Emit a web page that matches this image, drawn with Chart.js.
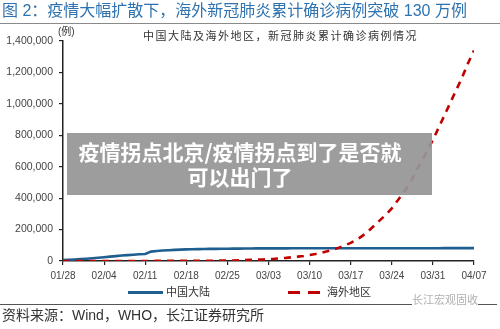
<!DOCTYPE html>
<html><head><meta charset="utf-8">
<script src="https://cdn.jsdelivr.net/npm/chart.js@4/dist/chart.umd.min.js"></script>
<style>
html,body{margin:0;padding:0;background:#fff;}
#wrap{position:relative;width:500px;height:329px;overflow:hidden;font-family:"Liberation Sans",Arial,"Noto Sans CJK SC",sans-serif;}
#c{position:absolute;left:0;top:0;}
.abs{position:absolute;white-space:nowrap;}
</style></head>
<body>
<div id="wrap">
<canvas id="c" width="500" height="329"></canvas>
<div class="abs" style="left:2px;top:1px;font-size:16px;color:#2e73b0;line-height:20px;">图 2：疫情大幅扩散下，海外新冠肺炎累计确诊病例突破 130 万例</div>
<div class="abs" style="left:0;top:23px;width:500px;height:1px;background:#8a8a8a;"></div>
<div class="abs" style="left:143px;top:29px;font-size:11px;letter-spacing:1.5px;color:#333;line-height:14px;">中国大陆及海外地区，新冠肺炎累计确诊病例情况</div>
<div class="abs" style="left:58px;top:26px;font-size:10px;color:#333;line-height:12px;">(例)</div>
<div class="abs" style="left:67px;top:133px;width:365px;height:62px;background:rgba(150,150,150,0.93);"></div>
<div class="abs" style="left:40px;top:139px;width:400px;text-align:center;font-size:21px;font-weight:bold;color:#fff;line-height:25px;font-family:'Noto Sans CJK SC',sans-serif;">疫情拐点北京/疫情拐点到了是否就<br>可以出门了</div>
<div class="abs" style="left:128px;top:291px;width:35px;height:3px;background:#1f5f8f;"></div>
<div class="abs" style="left:166px;top:285px;font-size:11px;color:#333;line-height:14px;">中国大陆</div>
<div class="abs" style="left:288px;top:291px;width:12px;height:3px;background:#c00000;"></div>
<div class="abs" style="left:308px;top:291px;width:12px;height:3px;background:#c00000;"></div>
<div class="abs" style="left:327px;top:285px;font-size:11px;color:#333;line-height:14px;">海外地区</div>
<div class="abs" style="left:0;top:304px;width:497px;height:1px;background:#555;"></div>
<div class="abs" style="left:412px;top:293px;font-size:11px;color:#b0b0b0;line-height:14px;background:#fff;">长江宏观固收</div>
<div class="abs" style="left:2px;top:306px;font-size:14px;color:#333;line-height:18px;">资料来源：Wind，WHO，长江证券研究所</div>
</div>
<script>
const tickLabels = ["01/28","02/04","02/11","02/18","02/25","03/03","03/10","03/17","03/24","03/31","04/07"];
const yTicks = [0,200000,400000,600000,800000,1000000,1200000,1400000];
const chinaMainland = [5974,7711,9692,11791,14380,17205,20438,24324,28018,31161,34546,37198,40171,42638,44653,59804,63851,66492,68500,70548,72436,74185,74576,75465,76288,76936,77150,77658,78064,78497,78824,79251,79824,80026,80151,80270,80409,80552,80651,80695,80735,80754,80778,80793,80813,80824,80844,80860,80881,80894,80928,80967,81008,81054,81093,81171,81218,81285,81340,81394,81439,81470,81518,81554,81589,81620,81639,81669,81708,81740,81802];
const overseas = [60,80,100,130,150,160,190,220,250,280,300,320,350,390,420,450,480,520,600,700,800,900,1000,1200,1500,1800,2100,2400,2800,3600,4500,5600,7000,8500,10000,12000,14000,17000,20000,24000,28000,32000,38000,45000,53000,62000,72000,85000,100000,115000,135000,160000,190000,225000,260000,295000,335000,385000,435000,490000,560000,630000,700000,770000,850000,930000,1010000,1090000,1170000,1260000,1340000];
const seriesNames = ["中国大陆","海外地区"];

const toPts = arr => arr.map((v,i)=>({x:i,y:v}));
new Chart(document.getElementById('c'), {
  type:'line',
  data:{datasets:[
    {label:seriesNames[0],data:toPts(chinaMainland),borderColor:'#1f5f8f',borderWidth:2.6,pointRadius:0,tension:0,order:2},
    {label:seriesNames[1],data:toPts(overseas),borderColor:'#c00000',borderWidth:2.6,borderDash:[7,6],pointRadius:0,tension:0,order:1}
  ]},
  options:{
    responsive:false,animation:false,
    layout:{padding:{left:0,top:41,right:26,bottom:48}},
    plugins:{legend:{display:false},tooltip:{enabled:false}},
    scales:{
      x:{type:'linear',min:0,max:70,
        afterFit:s=>{s.height=20;},
        afterBuildTicks:s=>{s.ticks=tickLabels.map((l,i)=>({value:i*7}));},
        ticks:{callback:(v)=>tickLabels[Math.round(v/7)],color:'#444',font:{size:10,family:'Liberation Sans'},padding:5,maxRotation:0,autoSkip:false},
        grid:{drawOnChartArea:false,tickLength:4,color:'#222',lineWidth:1.2},
        border:{color:'#222',width:1.5}},
      y:{min:0,max:1400000,
        afterFit:s=>{s.width=63;},
        afterBuildTicks:s=>{s.ticks=yTicks.map(v=>({value:v}));},
        ticks:{callback:v=>v.toLocaleString('en-US'),color:'#444',font:{size:10.5,family:'Liberation Sans'},padding:6},
        grid:{drawOnChartArea:false,tickLength:4,color:'#222',lineWidth:1.2},
        border:{color:'#222',width:1.5}}
    }
  }
});
</script>
</body></html>
